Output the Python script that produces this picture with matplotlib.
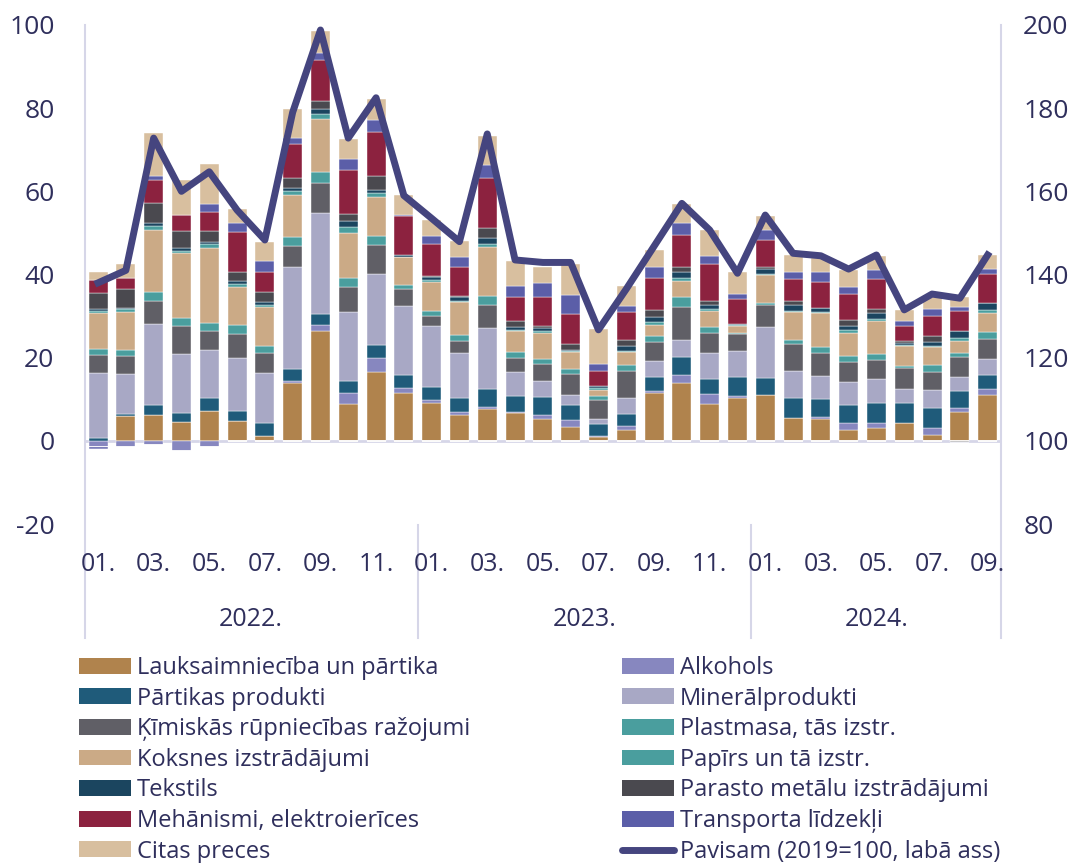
import matplotlib
matplotlib.use("Agg")
import matplotlib.pyplot as plt
import numpy as np
from matplotlib.patches import Patch
from matplotlib.lines import Line2D

plt.rcParams['font.family'] = ['Open Sans', 'DejaVu Sans']
plt.rcParams['axes.unicode_minus'] = False

# months Jan 2022 .. Sep 2024
months = ["01.", "02.", "03.", "04.", "05.", "06.", "07.", "08.", "09.", "10.", "11.", "12."] * 2 + \
         ["01.", "02.", "03.", "04.", "05.", "06.", "07.", "08.", "09."]
years = ["2022.", "2023.", "2024."]

lauks = [0, 5.9, 6.2, 4.6, 7.1, 4.8, 1.2, 13.9, 26.4, 8.8, 16.6, 11.4,
         9.1, 6.1, 7.6, 6.7, 5.2, 3.3, 1.0, 2.6, 11.5, 13.9, 8.9, 10.3,
         11.1, 5.6, 5.2, 2.5, 3.0, 4.4, 1.4, 7.0, 11.1]
alkohols = [-1.4, -1.4, -1.0, -2.4, -1.6, 0, 0, 0.4, 1.4, 2.8, 3.4, 1.2,
            0.8, 0.8, 0.6, 0.2, 1.0, 1.6, 0.2, 1.0, 0.6, 2.0, 2.4, 0.6,
            0, 0, 0.5, 1.8, 1.2, 0, 1.8, 0.8, 1.4]
partikas = [0.7, 0.5, 2.4, 2.0, 3.2, 2.4, 3.1, 2.9, 2.8, 2.8, 3.0, 3.2,
            3.0, 3.5, 4.2, 3.8, 4.4, 3.8, 2.9, 2.9, 3.2, 4.2, 3.6, 4.4,
            4.1, 4.8, 4.4, 4.4, 4.8, 4.6, 4.8, 4.2, 3.4]
mineral = [15.5, 9.6, 19.6, 14.2, 11.5, 12.6, 12.0, 24.6, 24.2, 16.5, 17.0, 16.7,
           14.8, 10.7, 14.8, 5.8, 3.8, 2.4, 1.2, 3.9, 4.0, 4.2, 6.3, 6.3,
           12.1, 6.3, 5.6, 5.4, 5.8, 3.4, 4.2, 3.4, 3.8]
kimiskas = [4.4, 4.4, 5.4, 6.9, 4.6, 6.0, 4.8, 5.0, 7.2, 6.1, 7.0, 4.0,
            2.4, 3.0, 5.4, 3.4, 4.1, 5.0, 4.4, 6.5, 4.4, 7.9, 4.8, 4.0,
            5.3, 6.6, 5.4, 4.8, 4.6, 5.0, 4.4, 4.8, 4.8]
plastmasa = [1.4, 1.5, 2.2, 1.9, 2.0, 2.0, 1.8, 2.3, 2.6, 2.2, 2.2, 1.0,
             1.2, 1.3, 2.2, 1.4, 1.2, 1.2, 1.0, 1.4, 1.6, 2.3, 1.4, 0.4,
             0.6, 1.0, 1.4, 1.5, 1.4, 0.6, 1.6, 1.0, 1.7]
koksnes = [8.7, 9.2, 14.8, 15.5, 18.0, 9.2, 9.2, 9.9, 12.7, 10.8, 9.5, 6.7,
           7.0, 7.9, 11.9, 5.0, 6.2, 4.0, 1.6, 3.0, 2.6, 4.0, 3.8, 1.6,
           6.6, 6.6, 8.2, 5.6, 8.0, 4.8, 4.4, 2.9, 4.6]
papirs = [0.5, 0.5, 1.0, 0.6, 1.0, 0.8, 0.6, 1.0, 1.2, 1.4, 0.8, 0.0,
          0.4, 0.3, 0.6, 0.4, 0.6, 0.3, 0.4, 0.3, 0.6, 0.6, 0.4, 0.2,
          0.3, 0.4, 0.4, 0.6, 0.6, 0.3, 0.2, 0.6, 0.6]
tekstils = [0.6, 0.4, 0.9, 0.6, 0.4, 0.6, 0.8, 0.9, 1.4, 1.4, 0.8, 0.6,
            0.6, 0.9, 1.4, 0.6, 0.6, 0.3, 0.4, 1.3, 1.2, 1.4, 1.0, 0.4,
            1.2, 1.4, 0.8, 1.0, 1.4, 0.4, 1.0, 1.6, 1.7]
parasto = [3.8, 4.6, 4.7, 4.2, 2.6, 2.2, 2.4, 2.2, 1.8, 1.8, 3.4, 0.0,
           0.3, 0.3, 2.6, 1.4, 0.6, 1.4, 0.2, 1.4, 1.7, 1.4, 1.0, 0.0,
           0.6, 1.0, 0.0, 1.4, 0.9, 0.5, 1.4, -0.3, 0.0]
mehanismi = [3.0, 2.6, 5.6, 3.7, 4.6, 9.6, 4.8, 8.3, 10.0, 10.6, 10.6, 9.2,
             7.8, 7.1, 11.8, 5.8, 6.8, 7.2, 3.6, 6.7, 7.8, 7.5, 9.0, 6.0,
             6.4, 5.1, 6.2, 6.2, 7.1, 3.5, 4.8, 5.0, 7.0]
transporta = [-0.5, 0, 0.9, 0, 2.0, 2.2, 2.6, 1.5, 1.6, 2.5, 2.8, 0.4,
              1.8, 2.2, 3.3, 2.8, 3.4, 4.6, 1.6, 1.4, 2.6, 3.1, 1.8, 1.1,
              2.4, 1.8, 2.6, 1.8, 2.4, 1.2, 1.6, 0.8, 1.2]
citas = [2.1, 3.4, 10.3, 8.6, 9.6, 3.4, 4.6, 6.8, 5.2, 5.0, 5.2, 4.8,
         3.8, 3.9, 6.8, 5.9, 4.0, 7.5, 8.3, 4.8, 4.2, 4.4, 6.3, 5.4,
         3.4, 4.0, 3.2, 4.0, 3.2, 2.8, 3.4, 2.5, 3.4]
pavisam = [138, 141, 172.8, 160, 164.7, 155.5, 148.3, 179, 198.8, 172.8, 182.5, 159,
           153.5, 147.9, 173.8, 143.5, 142.9, 142.9, 126.7, 136.5, 146.8, 157.1, 150.7, 140.3,
           154.3, 145.1, 144.5, 141.3, 144.7, 131.5, 135.3, 134.3, 144.7]

series = [
    ("Lauksaimniecība un pārtika", lauks, "#B0834D"),
    ("Alkohols", alkohols, "#8787BF"),
    ("Pārtikas produkti", partikas, "#1F5B7A"),
    ("Minerālprodukti", mineral, "#A8A8C5"),
    ("Ķīmiskās rūpniecības ražojumi", kimiskas, "#605F66"),
    ("Plastmasa, tās izstr.", plastmasa, "#4A9E9E"),
    ("Koksnes izstrādājumi", koksnes, "#CBAA86"),
    ("Papīrs un tā izstr.", papirs, "#4A9E9E"),
    ("Tekstils", tekstils, "#1B455F"),
    ("Parasto metālu izstrādājumi", parasto, "#4A494F"),
    ("Mehānismi, elektroierīces", mehanismi, "#8C223F"),
    ("Transporta līdzekļi", transporta, "#5B5EA8"),
    ("Citas preces", citas, "#D8BF9F"),
]

txt = "#2F2F5C"
grid_c = "#D6D6E8"
line_c = "#45457F"

fig = plt.figure(figsize=(10.81, 8.63), dpi=100)
ax = fig.add_axes([85 / 1081, 1 - 524 / 863, 916 / 1081, 499 / 863])

x = np.arange(len(lauks))
pos_bottom = np.zeros(len(x))
neg_bottom = np.zeros(len(x))
for name, vals, col in series:
    v = np.array(vals, dtype=float)
    pos = np.where(v > 0, v, 0)
    neg = np.where(v < 0, v, 0)
    ax.bar(x, pos, 0.68, bottom=pos_bottom, color=col, edgecolor="white", linewidth=0.3, zorder=2)
    ax.bar(x, neg, 0.68, bottom=neg_bottom, color=col, edgecolor="white", linewidth=0.3, zorder=2)
    pos_bottom += pos
    neg_bottom += neg

ax.set_xlim(-0.47, 32.48)
ax.set_ylim(-20, 100)
ax.set_yticks([-20, 0, 20, 40, 60, 80, 100])
ax.tick_params(axis="y", length=0, pad=22, labelsize=19, labelcolor=txt)
ax.set_xticks([])
for s in ax.spines.values():
    s.set_visible(False)
ax.axhline(0, color=grid_c, lw=2, zorder=1)

ax2 = ax.twinx()
ax2.set_ylim(80, 200)
ax2.set_yticks([80, 100, 120, 140, 160, 180, 200])
ax2.tick_params(axis="y", length=0, pad=16, labelsize=19, labelcolor=txt)
for s in ax2.spines.values():
    s.set_visible(False)
ax2.plot(x, pavisam, color=line_c, lw=5, solid_joinstyle="round", zorder=5)

# category axis: month labels, year labels and separators
tr = ax.get_xaxis_transform()
for i in range(0, len(months), 2):
    ax.text(i, -0.082, months[i], transform=tr, ha="center", va="center", fontsize=18, color=txt)
year_centers = [5.5, 17.5, 28.0]
for xc, yl in zip(year_centers, years):
    ax.text(xc, -0.192, yl, transform=tr, ha="center", va="center", fontsize=18, color=txt)
for xs in [-0.47, 32.48]:
    ax.plot([xs, xs], [1.0, -0.228], transform=tr, color=grid_c, lw=1.5, clip_on=False)
for xs in [11.5, 23.5]:
    ax.plot([xs, xs], [-0.002, -0.228], transform=tr, color=grid_c, lw=1.5, clip_on=False)

# legend: two columns
handles = [Patch(facecolor=c, edgecolor="none", label=n) for n, _, c in series]
left_idx = [0, 2, 4, 6, 8, 10, 12]
right_idx = [1, 3, 5, 7, 9, 11]
leg_kw = dict(frameon=False, fontsize=17, labelcolor=txt, handlelength=2.2, handleheight=0.65,
              handletextpad=0.25, labelspacing=0.28, borderpad=0, borderaxespad=0, loc="upper left")
fig.legend([handles[i] for i in left_idx], [series[i][0] for i in left_idx],
           bbox_to_anchor=(79 / 1081, 1 - 656 / 863), **leg_kw)
rh = [handles[i] for i in right_idx] + [Line2D([0], [0], color=line_c, lw=5, solid_capstyle="round")]
rl = [series[i][0] for i in right_idx] + ["Pavisam (2019=100, labā ass)"]
fig.legend(rh, rl, bbox_to_anchor=(622 / 1081, 1 - 656 / 863), **leg_kw)

fig.savefig("out.png", dpi=100)
